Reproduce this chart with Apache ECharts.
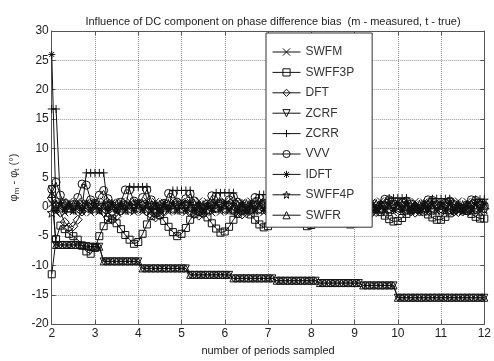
<!DOCTYPE html>
<html>
<head>
<meta charset="utf-8">
<script src="https://cdn.jsdelivr.net/npm/echarts@6/dist/echarts.min.js"></script>
<style>
  html, body { margin: 0; padding: 0; background: #fff; }
  #main { width: 494px; height: 361px; }
</style>
</head>
<body>
<div id="main"></div>
<script>
// x positions: number of periods sampled
const xs = [
  2.0, 2.1, 2.2, 2.3, 2.4, 2.5, 2.6, 2.7, 2.8, 2.9,
  3.0, 3.1, 3.2, 3.3, 3.4, 3.5, 3.6, 3.7, 3.8, 3.9,
  4.0, 4.1, 4.2, 4.3, 4.4, 4.5, 4.6, 4.7, 4.8, 4.9,
  5.0, 5.1, 5.2, 5.3, 5.4, 5.5, 5.6, 5.7, 5.8, 5.9,
  6.0, 6.1, 6.2, 6.3, 6.4, 6.5, 6.6, 6.7, 6.8, 6.9,
  7.0, 7.1, 7.2, 7.3, 7.4, 7.5, 7.6, 7.7, 7.8, 7.9,
  8.0, 8.1, 8.2, 8.3, 8.4, 8.5, 8.6, 8.7, 8.8, 8.9,
  9.0, 9.1, 9.2, 9.3, 9.4, 9.5, 9.6, 9.7, 9.8, 9.9,
  10.0, 10.1, 10.2, 10.3, 10.4, 10.5, 10.6, 10.7, 10.8, 10.9,
  11.0, 11.1, 11.2, 11.3, 11.4, 11.5, 11.6, 11.7, 11.8, 11.9,
  12.0
];

const swfm = [
  0.5, -0.9, 1.0, -1.0, 0.9, -0.8, 1.0, -0.9, 0.8, -1.0,
  0.9, -0.8, 1.0, -0.9, 0.8, -1.0, 0.9, -0.8, 1.0, -0.9,
  0.8, -0.9, 1.0, -0.8, 0.9, -1.0, 0.8, -0.9, 1.0, -0.8,
  0.9, -1.0, 0.8, -0.9, 1.0, -0.8, 0.9, -1.0, 0.8, -0.9,
  1.0, -0.8, 0.9, -1.0, 0.8, -0.9, 1.0, -0.8, 0.9, -1.0,
  0.8, -0.9, 1.0, -0.8, 0.9, -1.0, 0.8, -0.9, 1.0, -0.8,
  0.9, -1.0, 0.8, -0.9, 1.0, -0.8, 0.9, -1.0, 0.8, -0.9,
  1.0, -0.8, 0.9, -1.0, 0.8, -0.9, 1.0, -0.8, 0.9, -1.0,
  0.8, -0.9, 1.0, -0.8, 0.9, -1.0, 0.8, -0.9, 1.0, -0.8,
  0.9, -1.0, 0.8, -0.9, 1.0, -0.8, 0.9, -1.0, 0.8, -0.9,
  0.8
];

const swff3p = [
  -11.5, -5.5, -3.2, -3.8, -4.6, -5.0, -5.6, -6.6, -7.6, -8.0,
  -7.0, -5.0, -3.3, -2.2, -2.0, -2.8, -3.8, -4.8, -5.6, -6.3,
  -6.0, -4.6, -3.0, -1.6, -1.0, -1.4, -2.4, -3.4, -4.3, -5.0,
  -4.6, -3.6, -2.2, -1.2, -0.8, -1.0, -1.8, -2.8, -3.7, -4.4,
  -4.2, -3.4, -2.2, -1.2, -0.6, -0.6, -1.3, -2.2, -3.0, -3.5,
  -3.3, -2.6, -1.6, -0.8, -0.4, -0.6, -1.2, -2.0, -2.8, -3.3,
  -3.1, -2.4, -1.5, -0.8, -0.4, -0.5, -1.0, -1.8, -2.5, -3.0,
  -2.8, -2.1, -1.3, -0.7, -0.4, -0.4, -0.9, -1.5, -2.1, -2.5,
  -2.4, -1.9, -1.2, -0.6, -0.3, -0.4, -0.8, -1.3, -1.8, -2.2,
  -2.2, -1.7, -1.1, -0.6, -0.3, -0.3, -0.7, -1.2, -1.7, -2.0,
  -2.0
];

const dft = [
  1.5, 0.3, -1.0, -2.6, -3.5, -3.3, -2.2, -0.8, 0.4, -0.3,
  0.5, -0.4, -0.9, -1.8, -2.2, -1.6, -0.6, 0.4, -0.3, 0.5,
  -0.4, 0.3, -0.8, -1.4, -1.8, -1.5, -0.6, 0.3, -0.4, 0.5,
  -0.3, 0.4, -0.7, -1.2, -1.5, -1.2, -0.5, 0.4, -0.3, 0.5,
  -0.4, 0.3, -0.6, -1.1, -1.3, -1.1, -0.5, 0.3, -0.4, 0.4,
  -0.3, 0.4, -0.6, -1.0, -1.2, -1.0, -0.4, 0.3, -0.3, 0.4,
  -0.4, 0.3, -0.5, -0.9, -1.1, -0.9, -0.4, 0.4, -0.3, 0.4,
  -0.3, 0.4, -0.5, -0.9, -1.0, -0.9, -0.4, 0.3, -0.4, 0.4,
  -0.4, 0.3, -0.5, -0.8, -1.0, -0.8, -0.4, 0.3, -0.3, 0.4,
  -0.3, 0.4, -0.5, -0.8, -0.9, -0.8, -0.4, 0.3, -0.4, 0.4,
  -0.3
];

const zcrf = [
  3.0, -6.5, -6.5, -6.5, -6.5, -6.5, -6.5, -6.6, -6.7, -6.8,
  -6.8, -6.8, -9.3, -9.3, -9.3, -9.3, -9.3, -9.3, -9.3, -9.3,
  -9.3, -10.5, -10.5, -10.5, -10.5, -10.5, -10.5, -10.5, -10.5, -10.5,
  -10.5, -10.5, -11.6, -11.6, -11.6, -11.6, -11.6, -11.6, -11.6, -11.6,
  -11.6, -11.6, -12.2, -12.2, -12.2, -12.2, -12.2, -12.2, -12.2, -12.2,
  -12.2, -12.2, -12.6, -12.6, -12.6, -12.6, -12.6, -12.6, -12.6, -12.6,
  -12.6, -12.6, -13.0, -13.0, -13.0, -13.0, -13.0, -13.0, -13.0, -13.0,
  -13.0, -13.0, -13.4, -13.4, -13.4, -13.4, -13.4, -13.4, -13.4, -13.4,
  -15.5, -15.5, -15.5, -15.5, -15.5, -15.5, -15.5, -15.5, -15.5, -15.5,
  -15.5, -15.5, -15.5, -15.5, -15.5, -15.5, -15.5, -15.5, -15.5, -15.5,
  -15.5
];

const zcrr = [
  16.7, 16.7, 0.6, -0.4, 0.3, -0.5, 0.2, -0.3, 5.8, 5.8,
  5.8, 5.8, 5.8, -0.4, 0.3, -0.5, 0.2, -0.3, 3.4, 3.4,
  3.4, 3.4, 3.4, -0.4, 0.3, -0.5, 0.2, -0.3, 2.8, 2.8,
  2.8, 2.8, 2.8, -0.4, 0.3, -0.5, 0.2, -0.3, 2.4, 2.4,
  2.4, 2.4, 2.4, -0.4, 0.3, -0.5, 0.2, -0.3, 2.1, 2.1,
  2.1, 2.1, 2.1, -0.4, 0.3, -0.5, 0.2, -0.3, 1.9, 1.9,
  1.9, 1.9, 1.9, -0.4, 0.3, -0.5, 0.2, -0.3, 1.7, 1.7,
  1.7, 1.7, 1.7, -0.4, 0.3, -0.5, 0.2, -0.3, 1.5, 1.5,
  1.5, 1.5, 1.5, -0.4, 0.3, -0.5, 0.2, -0.3, 1.4, 1.4,
  1.4, 1.4, 1.4, -0.4, 0.3, -0.5, 0.2, -0.3, 1.3, 1.3,
  1.3
];

const vvv = [
  3.0, 4.2, 2.0, 0.6, -0.2, 0.4, 1.6, 3.9, 3.7, 1.2,
  0.6, 2.0, 2.8, 1.4, 0.2, -0.3, 0.8, 2.9, 2.9, 1.0,
  0.5, 1.6, 2.9, 1.2, 0.2, -0.3, 0.6, 2.3, 2.2, 0.8,
  0.4, 1.4, 2.2, 1.0, 0.1, -0.3, 0.5, 1.9, 1.8, 0.7,
  0.4, 1.2, 1.7, 0.8, 0.1, -0.3, 0.4, 1.6, 1.5, 0.6,
  0.3, 1.0, 1.5, 0.7, 0.1, -0.3, 0.4, 1.5, 1.4, 0.6,
  0.3, 0.9, 1.4, 0.6, 0.0, -0.3, 0.3, 1.4, 1.3, 0.5,
  0.3, 0.8, 1.3, 0.5, 0.0, -0.3, 0.3, 1.3, 1.2, 0.5,
  0.2, 0.7, 1.0, 0.5, 0.0, -0.3, 0.3, 1.2, 1.1, 0.4,
  0.2, 0.6, 1.0, 0.4, 0.0, -0.3, 0.3, 1.2, 1.1, 0.4,
  0.2
];

const idft = [
  26.0, -0.6, 0.7, -0.5, 0.6, -0.7, 0.5, -0.6, 0.7, -0.5,
  0.6, -0.7, 0.5, -0.6, 0.7, -0.5, 0.6, -0.7, 0.5, -0.6,
  0.7, -0.5, 0.6, -0.7, 0.5, -0.6, 0.7, -0.5, 0.6, -0.7,
  0.5, -0.6, 0.7, -0.5, 0.6, -0.7, 0.5, -0.6, 0.7, -0.5,
  0.6, -0.7, 0.5, -0.6, 0.7, -0.5, 0.6, -0.7, 0.5, -0.6,
  0.7, -0.5, 0.6, -0.7, 0.5, -0.6, 0.7, -0.5, 0.6, -0.7,
  0.5, -0.6, 0.7, -0.5, 0.6, -0.7, 0.5, -0.6, 0.7, -0.5,
  0.6, -0.7, 0.5, -0.6, 0.7, -0.5, 0.6, -0.7, 0.5, -0.6,
  0.7, -0.5, 0.6, -0.7, 0.5, -0.6, 0.7, -0.5, 0.6, -0.7,
  0.5, -0.6, 0.7, -0.5, 0.6, -0.7, 0.5, -0.6, 0.7, -0.5,
  0.6
];

const swff4p = [
  -1.0, 0.4, -0.3, 0.5, -0.4, 0.3, -0.5, 0.4, -0.3, 0.5,
  -0.4, 0.3, -0.5, 0.4, -0.3, 0.5, -0.4, 0.3, -0.5, 0.4,
  -0.3, 0.5, -0.4, 0.3, -0.5, 0.4, -0.3, 0.5, -0.4, 0.3,
  -0.5, 0.4, -0.3, 0.5, -0.4, 0.3, -0.5, 0.4, -0.3, 0.5,
  -0.4, 0.3, -0.5, 0.4, -0.3, 0.5, -0.4, 0.3, -0.5, 0.4,
  -0.3, 0.5, -0.4, 0.3, -0.5, 0.4, -0.3, 0.5, -0.4, 0.3,
  -0.5, 0.4, -0.3, 0.5, -0.4, 0.3, -0.5, 0.4, -0.3, 0.5,
  -0.4, 0.3, -0.5, 0.4, -0.3, 0.5, -0.4, 0.3, -0.5, 0.4,
  -0.3, 0.5, -0.4, 0.3, -0.5, 0.4, -0.3, 0.5, -0.4, 0.3,
  -0.5, 0.4, -0.3, 0.5, -0.4, 0.3, -0.5, 0.4, -0.3, 0.5,
  -0.4
];

const swfr = [
  2.2, -6.5, -6.5, -6.5, -6.5, -6.5, -6.5, -6.6, -6.7, -6.8,
  -6.8, -6.8, -9.3, -9.3, -9.3, -9.3, -9.3, -9.3, -9.3, -9.3,
  -9.3, -10.5, -10.5, -10.5, -10.5, -10.5, -10.5, -10.5, -10.5, -10.5,
  -10.5, -10.5, -11.6, -11.6, -11.6, -11.6, -11.6, -11.6, -11.6, -11.6,
  -11.6, -11.6, -12.2, -12.2, -12.2, -12.2, -12.2, -12.2, -12.2, -12.2,
  -12.2, -12.2, -12.6, -12.6, -12.6, -12.6, -12.6, -12.6, -12.6, -12.6,
  -12.6, -12.6, -13.0, -13.0, -13.0, -13.0, -13.0, -13.0, -13.0, -13.0,
  -13.0, -13.0, -13.4, -13.4, -13.4, -13.4, -13.4, -13.4, -13.4, -13.4,
  -15.5, -15.5, -15.5, -15.5, -15.5, -15.5, -15.5, -15.5, -15.5, -15.5,
  -15.5, -15.5, -15.5, -15.5, -15.5, -15.5, -15.5, -15.5, -15.5, -15.5,
  -15.5
];

const names = ["SWFM", "SWFF3P", "DFT", "ZCRF", "ZCRR", "VVV", "IDFT", "SWFF4P", "SWFR"];
const values = [swfm, swff3p, dft, zcrf, zcrr, vvv, idft, swff4p, swfr];
const xTicks = [2, 12, 1];
const yTicks = [-20, 30, 5];

// marker shapes (MATLAB style, unfilled)
const markers = {
  SWFM: { symbol: "path://M0,0L10,10M10,0L0,10", size: 7 },
  SWFF3P: { symbol: "rect", size: 7 },
  DFT: { symbol: "diamond", size: 9 },
  ZCRF: { symbol: "triangle", size: 7, rotate: 180 },
  ZCRR: { symbol: "path://M5,0L5,10M0,5L10,5", size: 8 },
  VVV: { symbol: "circle", size: 8 },
  IDFT: { symbol: "path://M5,0L5,10M0,5L10,5M1.5,1.5L8.5,8.5M8.5,1.5L1.5,8.5", size: 7 },
  SWFF4P: { symbol: "path://M5,0L6.2,3.6L10,3.6L6.9,5.9L8.1,9.5L5,7.3L1.9,9.5L3.1,5.9L0,3.6L3.8,3.6Z", size: 9 },
  SWFR: { symbol: "triangle", size: 7 },
};

const font = "Arial, 'Liberation Sans', Helvetica, sans-serif";
const ink = "#111";
const hollow = "rgba(255,255,255,0)";

const chart = echarts.init(document.getElementById("main"));

const series = names.map((name, k) => {
  const m = markers[name];
  return {
    name: name,
    type: "line",
    data: xs.map((x, i) => [x, values[k][i]]),
    symbol: m.symbol,
    symbolSize: m.size,
    symbolRotate: m.rotate || 0,
    showAllSymbol: true,
    lineStyle: { color: ink, width: 1 },
    itemStyle: { color: hollow, borderColor: ink, borderWidth: 1 },
    emphasis: { disabled: true },
    animation: false,
  };
});

const option = {
  animation: false,
  title: {
    text: "Influence of DC component on phase difference bias  (m - measured, t - true)",
    left: 268,
    textAlign: "center",
    top: 11,
    textStyle: { fontFamily: font, fontSize: 11, fontWeight: "normal", color: "#222" },
  },
  legend: {
    data: names,
    orient: "vertical",
    left: 266,
    top: 33,
    padding: [13, 18, 6, 6],
    itemWidth: 28,
    itemHeight: 9,
    itemGap: 8.4,
    backgroundColor: "#fff",
    borderColor: "#333",
    borderWidth: 1,
    itemStyle: { color: hollow, borderColor: ink, borderWidth: 1 },
    lineStyle: { color: ink, width: 1 },
    textStyle: { fontFamily: font, fontSize: 12, color: "#333", lineHeight: 12 },
    selectedMode: false,
  },
  grid: { left: 48, right: 5, top: 31, bottom: 31, show: false },
  xAxis: [
    {
      type: "value",
      min: xTicks[0],
      max: xTicks[1],
      interval: xTicks[2],
      name: "number of periods sampled",
      nameLocation: "middle",
      nameGap: 17,
      nameTextStyle: { fontFamily: font, fontSize: 11, color: "#222" },
      axisLine: { show: true, onZero: false, lineStyle: { color: "#555" } },
      axisTick: { show: true, inside: true, length: 4, lineStyle: { color: "#555" } },
      axisLabel: { fontFamily: font, fontSize: 12, color: "#222", margin: 4 },
      splitLine: { show: true, lineStyle: { type: "dotted", color: "#999" } },
    },
    {
      type: "value",
      position: "top",
      min: xTicks[0],
      max: xTicks[1],
      interval: xTicks[2],
      axisLine: { show: true, onZero: false, lineStyle: { color: "#555" } },
      axisTick: { show: true, inside: true, length: 4, lineStyle: { color: "#555" } },
      axisLabel: { show: false },
      splitLine: { show: false },
    },
  ],
  yAxis: [
    {
      type: "value",
      min: yTicks[0],
      max: yTicks[1],
      interval: yTicks[2],
      name: "φ{s|m} - φ{s|t} (°)",
      nameLocation: "middle",
      nameGap: 28,
      nameTextStyle: {
        fontFamily: font, fontSize: 11, color: "#333",
        rich: { s: { fontFamily: font, fontSize: 8, color: "#333", verticalAlign: "bottom", padding: [6, 0, 0, 0] } },
      },
      axisLine: { show: true, onZero: false, lineStyle: { color: "#555" } },
      axisTick: { show: true, inside: true, length: 4, lineStyle: { color: "#555" } },
      axisLabel: { fontFamily: font, fontSize: 12, color: "#222", margin: 3 },
      splitLine: { show: true, lineStyle: { type: "dotted", color: "#999" } },
    },
    {
      type: "value",
      position: "right",
      min: yTicks[0],
      max: yTicks[1],
      interval: yTicks[2],
      axisLine: { show: true, onZero: false, lineStyle: { color: "#555" } },
      axisTick: { show: true, inside: true, length: 4, lineStyle: { color: "#555" } },
      axisLabel: { show: false },
      splitLine: { show: false },
    },
  ],
  series: series,
};

chart.setOption(option);
</script>
</body>
</html>
